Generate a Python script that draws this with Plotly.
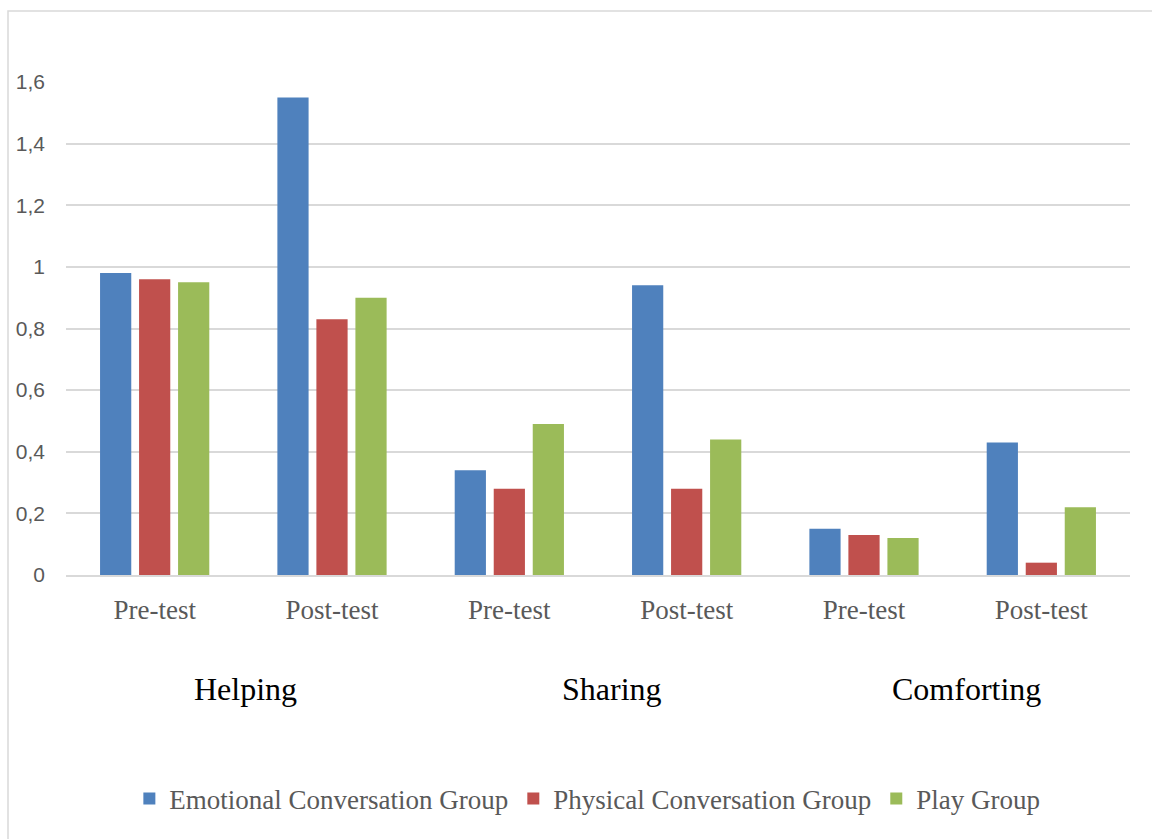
import plotly.graph_objects as go

categories = ["Helping|Pre", "Helping|Post", "Sharing|Pre", "Sharing|Post", "Comforting|Pre", "Comforting|Post"]
tick_labels = ["Pre-test", "Post-test", "Pre-test", "Post-test", "Pre-test", "Post-test"]
group_labels = ["Helping", "Sharing", "Comforting"]
series_names = ["Emotional Conversation Group", "Physical Conversation Group", "Play Group"]
emotional = [0.98, 1.55, 0.34, 0.94, 0.15, 0.43]
physical = [0.96, 0.83, 0.28, 0.28, 0.13, 0.04]
play = [0.95, 0.90, 0.49, 0.44, 0.12, 0.22]
y_ticks = [0, 0.2, 0.4, 0.6, 0.8, 1, 1.2, 1.4, 1.6]

colors = ["#4F81BD", "#C0504D", "#9BBB59"]

W, H = 1152, 839
L, R, T, B = 66, 22, 82, 264
pw, ph = W - L - R, H - T - B

def px_x(x):
    return (x - L) / pw

def px_y(y):
    return (H - B - y) / ph

fig = go.Figure()
for name, vals, c in zip(series_names, [emotional, physical, play], colors):
    fig.add_trace(go.Bar(x=categories, y=vals, name=name,
                         marker=dict(color=c, line=dict(width=0))))

fig.update_layout(
    width=W, height=H,
    margin=dict(l=L, r=R, t=T, b=B),
    paper_bgcolor="white", plot_bgcolor="white",
    barmode="group", bargap=0.34, bargroupgap=0.2,
    separators=", ",
    showlegend=True,
    legend=dict(orientation="h", x=0.49, xanchor="center", y=px_y(799), yanchor="middle",
                font=dict(family="Liberation Serif", size=27, color="#595959"),
                itemwidth=30, tracegroupgap=0),
    xaxis=dict(type="category", tickvals=categories, ticktext=tick_labels,
               tickfont=dict(family="Liberation Serif", size=27, color="#595959"),
               showgrid=False, showline=True, linecolor="#d9d9d9", linewidth=1.5,
               ticks="", ticklabelstandoff=10),
    yaxis=dict(range=[0, 1.6], tickvals=y_ticks,
               tickfont=dict(family="Liberation Sans", size=21, color="#595959"),
               showgrid=True, gridcolor="#d9d9d9", gridwidth=1.5,
               zeroline=False, showline=False, ticks="", ticklabelstandoff=20),
)

group_x = [245, 612, 966]
for lbl, gx in zip(group_labels, group_x):
    fig.add_annotation(text=lbl, x=px_x(gx), y=px_y(689), xref="paper", yref="paper",
                       showarrow=False, xanchor="center", yanchor="middle",
                       font=dict(family="Liberation Serif", size=32, color="black"))

fig.add_shape(type="rect", xref="paper", yref="paper",
              x0=px_x(8), x1=px_x(1160), y0=px_y(845), y1=px_y(11),
              line=dict(color="#d9d9d9", width=1.5), fillcolor="rgba(0,0,0,0)", layer="below")

fig.write_html("out.html")
